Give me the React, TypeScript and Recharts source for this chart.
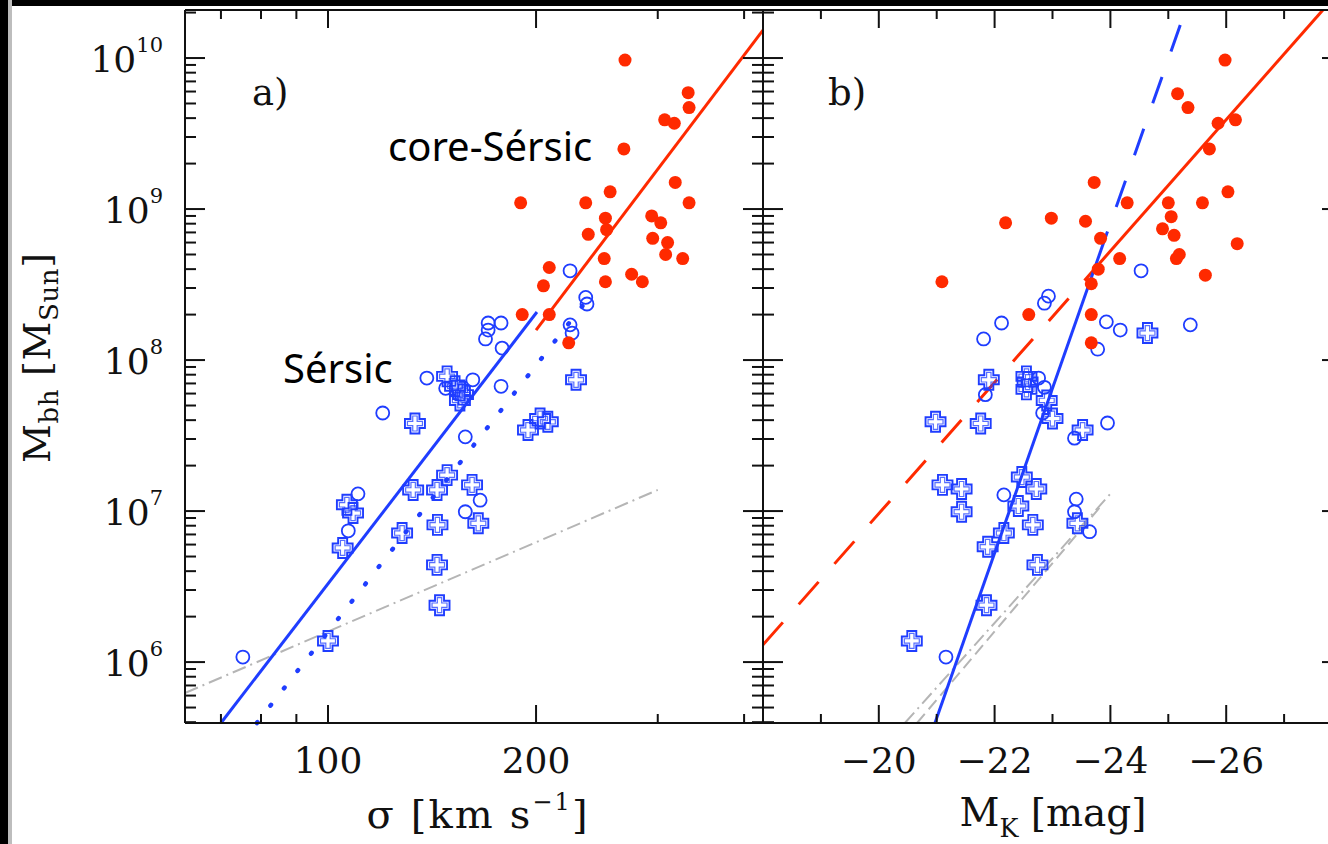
import React from 'react'
import { ScatterChart, Scatter, XAxis, YAxis, ReferenceLine } from 'recharts'

const INK = '#111'
const RED = '#ff2a00'
const BLUE = '#1f3dff'
const GRAY = '#b5b5b5'
const SERIF = '"DejaVu Serif", serif'
const SANS = '"Noto Sans", sans-serif'

// axis ranges
const M_RANGE: [number, number] = [3.95e5, 2.08e10]
const SIGMA_RANGE: [number, number] = [62.1, 426]
const MK_RANGE: [number, number] = [-28, -18]

const M_TICKS = [
  4e5, 5e5, 6e5, 7e5, 8e5, 9e5,
  1e6, 2e6, 3e6, 4e6, 5e6, 6e6, 7e6, 8e6, 9e6,
  1e7, 2e7, 3e7, 4e7, 5e7, 6e7, 7e7, 8e7, 9e7,
  1e8, 2e8, 3e8, 4e8, 5e8, 6e8, 7e8, 8e8, 9e8,
  1e9, 2e9, 3e9, 4e9, 5e9, 6e9, 7e9, 8e9, 9e9,
  1e10, 2e10,
]
const M_LABELS = [1e6, 1e7, 1e8, 1e9, 1e10]
const M_EXPONENTS = ['6', '7', '8', '9', '10']

const SIGMA_TICKS = [70, 80, 90, 100, 200, 300, 400]
const SIGMA_LABELS = [100, 200]
const MK_TICKS = [-19, -20, -21, -22, -23, -24, -25, -26, -27]
const MK_LABELS = [-20, -22, -24, -26]

// panel a) sigma [km/s], M_bh [M_sun]
const CORE_SIGMA = [
  [269, 9.7e9], [332, 5.9e9], [333, 4.7e9], [307, 3.9e9], [317, 3.7e9], [268, 2.5e9],
  [318, 1.5e9], [256, 1.3e9], [190, 1.1e9], [236, 1.1e9], [333, 1.1e9], [294, 9.0e8],
  [303, 8.1e8], [252, 8.7e8], [253, 7.3e8], [238, 6.8e8], [295, 6.4e8], [310, 6.0e8],
  [308, 5.0e8], [326, 4.7e8], [251, 4.7e8], [275, 3.7e8], [285, 3.3e8], [252, 3.3e8],
  [209, 4.1e8], [205, 3.1e8], [191, 2.0e8], [209, 2.0e8], [223, 1.3e8],
]
const SERSIC_SIGMA = [
  [75.3, 1.08e6], [120, 4.46e7], [110.5, 1.3e7], [107, 7.4e6], [139, 7.6e7], [148, 6.5e7],
  [158, 3.1e7], [162, 7.4e7], [166, 1.18e7], [158, 9.9e6], [170.5, 1.76e8], [178, 1.76e8],
  [170.5, 1.58e8], [169, 1.38e8], [178.6, 1.2e8], [178, 6.7e7], [224, 3.9e8], [236, 2.6e8],
  [237, 2.35e8], [224, 1.71e8], [225.5, 1.51e8],
]
const PSEUDO_SIGMA = [
  [148.7, 7.8e7], [152.7, 6.7e7], [155.2, 6.3e7], [156.8, 5.9e7], [155.2, 5.4e7], [133.6, 3.8e7],
  [194.7, 3.44e7], [202.7, 4.1e7], [208, 3.9e7], [148.7, 1.73e7], [132.8, 1.38e7], [143.8, 1.38e7],
  [161.6, 1.49e7], [106.5, 1.1e7], [108.7, 9.7e6], [105, 5.7e6], [128, 7.15e6], [144, 8.1e6],
  [165, 8.3e6], [143.8, 4.4e6], [145, 2.38e6], [100, 1.38e6], [228.5, 7.4e7],
]

// panel b) M_K [mag], M_bh [M_sun]
const CORE_MK = [
  [-25.98, 9.7e9], [-25.16, 5.8e9], [-25.34, 4.7e9], [-25.86, 3.7e9], [-26.16, 3.9e9], [-25.71, 2.5e9],
  [-23.72, 1.5e9], [-26.03, 1.3e9], [-24.29, 1.1e9], [-25.0, 1.1e9], [-25.59, 1.1e9], [-22.19, 8.1e8],
  [-22.98, 8.7e8], [-23.57, 8.3e8], [-25.05, 8.9e8], [-24.9, 7.4e8], [-25.1, 6.7e8], [-23.83, 6.4e8],
  [-26.19, 5.9e8], [-25.19, 5.0e8], [-25.14, 4.7e8], [-24.16, 4.7e8], [-25.64, 3.65e8], [-23.79, 4.0e8],
  [-23.67, 3.2e8], [-22.59, 2.0e8], [-23.67, 2.0e8], [-23.67, 1.3e8], [-21.09, 3.3e8],
]
const SERSIC_MK = [
  [-22.93, 2.65e8], [-22.86, 2.38e8], [-22.12, 1.76e8], [-23.93, 1.79e8], [-24.17, 1.58e8], [-23.78, 1.18e8],
  [-24.53, 3.9e8], [-25.38, 1.71e8], [-21.81, 1.38e8], [-22.76, 7.6e7], [-22.86, 6.6e7], [-21.84, 5.9e7],
  [-22.83, 4.46e7], [-23.95, 3.83e7], [-23.38, 3.04e7], [-22.16, 1.28e7], [-23.41, 1.2e7], [-23.38, 9.9e6],
  [-23.64, 7.3e6], [-21.16, 1.08e6],
]
const PSEUDO_MK = [
  [-21.9, 7.4e7], [-22.55, 7.8e7], [-22.57, 7.15e7], [-22.55, 6.4e7], [-22.9, 5.4e7], [-23.0, 4.1e7],
  [-20.98, 3.9e7], [-21.76, 3.8e7], [-23.52, 3.44e7], [-21.1, 1.49e7], [-21.43, 1.4e7], [-21.43, 9.9e6],
  [-22.47, 1.68e7], [-22.72, 1.4e7], [-22.41, 1.08e7], [-22.66, 8.1e6], [-23.43, 8.3e6], [-22.16, 7.15e6],
  [-21.88, 5.8e6], [-22.74, 4.4e6], [-21.86, 2.38e6], [-20.57, 1.38e6], [-24.64, 1.51e8],
]

// fitted relations (end points)
const SIGMA_SERSIC_FIT = [[70.0, 3.95e5], [200.6, 2.08e8]]
const SIGMA_SERSIC_ALT = [[78.9, 3.95e5], [233.9, 2.31e8]]
const SIGMA_CORE_FIT = [[200, 1.58e8], [426, 1.53e10]]
const SIGMA_GRAY = [[62.1, 6.24e5], [300, 1.38e7]]
const MK_CORE_DASH = [[-18, 1.3e6], [-23.81, 4.36e8]]
const MK_CORE_FIT = [[-23.81, 4.36e8], [-27.67, 2.08e10]]
const MK_SERSIC_FIT = [[-20.97, 3.95e5], [-23.95, 7.1e8]]
const MK_SERSIC_EXT = [[-24.1, 1.03e9], [-25.22, 1.71e10]]
const MK_GRAY_A = [[-20.45, 3.95e5], [-24.03, 1.34e7]]
const MK_GRAY_B = [[-20.66, 3.95e5], [-23.81, 1.05e7]]

const pts = (a: number[][]) => a.map(([x, y]) => ({ x, y }))
const seg = (a: number[][]) => pts(a) as any

const Dot = (p: any) => <circle cx={p.cx} cy={p.cy} r={6.5} fill={RED} />
const Ring = (p: any) => (
  <circle cx={p.cx} cy={p.cy} r={6.5} fill="none" stroke={BLUE} strokeWidth={1.8} />
)
const Cross = (p: any) => {
  const { cx, cy } = p
  const plus = (a: number, b: number) =>
    `M${cx - b},${cy - a}H${cx + b}V${cy - b}H${cx + a}V${cy + b}H${cx + b}V${cy + a}` +
    `H${cx - b}V${cy + b}H${cx - a}V${cy - b}H${cx - b}Z`
  return (
    <g fill="none" stroke={BLUE}>
      <path d={plus(10, 4.5)} strokeWidth={1.9} />
      <path d={plus(7.5, 2.2)} strokeWidth={1.2} strokeOpacity={0.75} />
    </g>
  )
}

const makeYTick = (dir: 1 | -1, labels: boolean) => (p: any) => {
  const v = p.payload.value
  const i = M_LABELS.indexOf(v)
  const len = i >= 0 ? 20 : 11
  return (
    <g>
      <line x1={p.x} y1={p.y} x2={p.x + dir * len} y2={p.y} stroke={INK} strokeWidth={2} />
      {labels && i >= 0 && (
        <text x={p.x - 22} y={p.y + 14} textAnchor="end" fontFamily={SERIF} fontSize={36} fill={INK}>
          10<tspan dy={-20} fontSize={21}>{M_EXPONENTS[i]}</tspan>
        </text>
      )}
    </g>
  )
}

const makeXTick = (majors: number[], bottom: boolean, fmt: (v: number) => string) => (p: any) => {
  const v = p.payload.value
  const major = majors.includes(v)
  const len = major ? 18 : 9
  const dir = bottom ? -1 : 1
  return (
    <g>
      <line x1={p.x} y1={p.y} x2={p.x} y2={p.y + dir * len} stroke={INK} strokeWidth={2} />
      {bottom && major && (
        <text x={p.x} y={p.y + 50} textAnchor="middle" fontFamily={SERIF} fontSize={36} fill={INK}>
          {fmt(v)}
        </text>
      )}
    </g>
  )
}

const axisLine = { stroke: INK, strokeWidth: 2 }
const common = { tickSize: 0, tickMargin: 0, tickLine: false, axisLine, allowDataOverflow: true, interval: 0 as const }

function SigmaPanel() {
  const fmt = (v: number) => String(v)
  return (
    <ScatterChart width={765} height={844} margin={{ top: 9, right: 1, bottom: 120, left: 184 }}>
      <XAxis xAxisId="b" orientation="bottom" dataKey="x" type="number" scale="log" domain={SIGMA_RANGE}
        ticks={SIGMA_TICKS} height={1} tick={makeXTick(SIGMA_LABELS, true, fmt)} {...common} />
      <XAxis xAxisId="t" orientation="top" dataKey="x" type="number" scale="log" domain={SIGMA_RANGE}
        ticks={SIGMA_TICKS} height={1} tick={makeXTick(SIGMA_LABELS, false, fmt)} {...common} />
      <YAxis yAxisId="l" orientation="left" dataKey="y" type="number" scale="log" domain={M_RANGE}
        ticks={M_TICKS} width={1} tick={makeYTick(1, true)} {...common} />
      <YAxis yAxisId="r" orientation="right" dataKey="y" type="number" scale="log" domain={M_RANGE}
        ticks={M_TICKS} width={1} tick={makeYTick(-1, false)} {...common} />

      <ReferenceLine xAxisId="b" yAxisId="l" segment={seg(SIGMA_GRAY)} stroke={GRAY} strokeWidth={2}
        strokeDasharray="14 5 2 5" ifOverflow="visible" />
      <ReferenceLine xAxisId="b" yAxisId="l" segment={seg(SIGMA_SERSIC_ALT)} stroke={BLUE} strokeWidth={4.5}
        strokeDasharray="1 21" strokeLinecap="round" ifOverflow="visible" />
      <ReferenceLine xAxisId="b" yAxisId="l" segment={seg(SIGMA_SERSIC_FIT)} stroke={BLUE} strokeWidth={3}
        ifOverflow="visible" />
      <ReferenceLine xAxisId="b" yAxisId="l" segment={seg(SIGMA_CORE_FIT)} stroke={RED} strokeWidth={3}
        ifOverflow="visible" />

      <Scatter xAxisId="b" yAxisId="l" data={pts(PSEUDO_SIGMA)} shape={Cross} isAnimationActive={false} />
      <Scatter xAxisId="b" yAxisId="l" data={pts(SERSIC_SIGMA)} shape={Ring} isAnimationActive={false} />
      <Scatter xAxisId="b" yAxisId="l" data={pts(CORE_SIGMA)} shape={Dot} isAnimationActive={false} />
    </ScatterChart>
  )
}

function MagPanel() {
  const fmt = (v: number) => '\u2212' + String(Math.abs(v))
  return (
    <ScatterChart width={609} height={844} margin={{ top: 9, right: 9, bottom: 120, left: 19 }}>
      <XAxis xAxisId="b" orientation="bottom" dataKey="x" type="number" domain={MK_RANGE} reversed
        ticks={MK_TICKS} height={1} tick={makeXTick(MK_LABELS, true, fmt)} {...common} />
      <XAxis xAxisId="t" orientation="top" dataKey="x" type="number" domain={MK_RANGE} reversed
        ticks={MK_TICKS} height={1} tick={makeXTick(MK_LABELS, false, fmt)} {...common} />
      <YAxis yAxisId="l" orientation="left" dataKey="y" type="number" scale="log" domain={M_RANGE}
        ticks={M_TICKS} width={1} tick={makeYTick(1, false)} {...common} />
      <YAxis yAxisId="r" orientation="right" dataKey="y" type="number" scale="log" domain={M_RANGE}
        ticks={M_TICKS} width={1} tick={makeYTick(-1, false)} {...common} />

      <ReferenceLine xAxisId="b" yAxisId="l" segment={seg(MK_GRAY_B)} stroke={GRAY} strokeWidth={2}
        strokeDasharray="12 6" ifOverflow="visible" />
      <ReferenceLine xAxisId="b" yAxisId="l" segment={seg(MK_GRAY_A)} stroke={GRAY} strokeWidth={2}
        strokeDasharray="14 5 2 5" ifOverflow="visible" />
      <ReferenceLine xAxisId="b" yAxisId="l" segment={seg(MK_CORE_DASH)} stroke={RED} strokeWidth={3}
        strokeDasharray="30 24" ifOverflow="visible" />
      <ReferenceLine xAxisId="b" yAxisId="l" segment={seg(MK_CORE_FIT)} stroke={RED} strokeWidth={3}
        ifOverflow="visible" />
      <ReferenceLine xAxisId="b" yAxisId="l" segment={seg(MK_SERSIC_FIT)} stroke={BLUE} strokeWidth={3}
        ifOverflow="visible" />
      <ReferenceLine xAxisId="b" yAxisId="l" segment={seg(MK_SERSIC_EXT)} stroke={BLUE} strokeWidth={3}
        strokeDasharray="28 27" ifOverflow="visible" />

      <Scatter xAxisId="b" yAxisId="l" data={pts(PSEUDO_MK)} shape={Cross} isAnimationActive={false} />
      <Scatter xAxisId="b" yAxisId="l" data={pts(SERSIC_MK)} shape={Ring} isAnimationActive={false} />
      <Scatter xAxisId="b" yAxisId="l" data={pts(CORE_MK)} shape={Dot} isAnimationActive={false} />
    </ScatterChart>
  )
}

export default function App() {
  return (
    <div style={{ position: 'absolute', left: 0, top: 0, width: 1328, height: 844, overflow: 'hidden', background: '#000' }}>
      <div style={{ position: 'absolute', left: 8, top: 0, width: 4, height: 844, background: '#bdbdbd' }} />
      <div style={{ position: 'absolute', left: 12, top: 6, right: 0, bottom: 0, background: '#fff' }} />
      <div style={{ position: 'absolute', left: 0, top: 0 }}>
        <SigmaPanel />
      </div>
      <div style={{ position: 'absolute', left: 743, top: 0 }}>
        <MagPanel />
      </div>
      <svg style={{ position: 'absolute', left: 0, top: 0, pointerEvents: 'none' }} width={1328} height={844}>
        <g fontFamily={SERIF} fill={INK}>
          <text x={252} y={105} fontSize={37}>a)</text>
          <text x={828} y={105} fontSize={37}>b)</text>
          <text x={477} y={828} fontSize={40} textAnchor="middle" textLength={221} lengthAdjust="spacing">
            σ [km s<tspan dy={-18} fontSize={24}>{'\u22121'}</tspan><tspan dy={18}>]</tspan>
          </text>
          <text x={1053} y={826} fontSize={40} textAnchor="middle" textLength={187} lengthAdjust="spacingAndGlyphs">
            M<tspan dy={11} fontSize={26}>K</tspan><tspan dy={-11}> [mag]</tspan>
          </text>
          <text x={50} y={358} fontSize={38} textAnchor="middle" textLength={210} lengthAdjust="spacing"
            transform="rotate(-90 50 358)">
            M<tspan dy={8} fontSize={26}>bh</tspan><tspan dy={-8}> [M</tspan>
            <tspan dy={8} fontSize={26}>Sun</tspan><tspan dy={-8}>]</tspan>
          </text>
        </g>
        <g fontFamily={SANS} fill="#000" fontSize={40}>
          <text x={388} y={161}>core-Sérsic</text>
          <text x={283} y={383}>Sérsic</text>
        </g>
      </svg>
    </div>
  )
}
